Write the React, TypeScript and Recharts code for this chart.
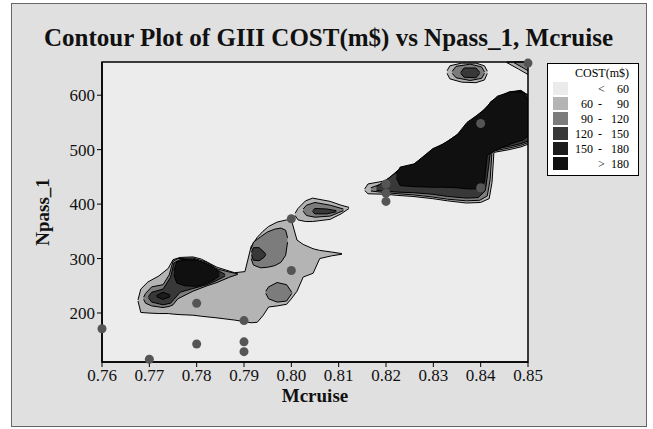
import React from "react";
import {
  ComposedChart,
  Area,
  Scatter,
  XAxis,
  YAxis,
  ReferenceArea,
} from "recharts";

// Contour bands, each as x with a [lo, hi] range of Npass_1
type Band = { x: number; lo: number; hi: number };

const xTicks = [0.76, 0.77, 0.78, 0.79, 0.8, 0.81, 0.82, 0.83, 0.84, 0.85];
const yTicks = [200, 300, 400, 500, 600];

const levelLabels = [
  ["", "<", "60"],
  ["60", "-", "90"],
  ["90", "-", "120"],
  ["120", "-", "150"],
  ["150", "-", "180"],
  ["", ">", "180"],
];
const levelColors = ["#ebebeb", "#b4b4b4", "#7c7c7c", "#383838", "#1c1c1c", "#101010"];

// observed design points
const designPoints = [
  { x: 0.76, y: 171 },
  { x: 0.77, y: 115 },
  { x: 0.78, y: 218 },
  { x: 0.78, y: 143 },
  { x: 0.79, y: 186 },
  { x: 0.79, y: 147 },
  { x: 0.79, y: 129 },
  { x: 0.8, y: 278 },
  { x: 0.8, y: 373 },
  { x: 0.82, y: 437 },
  { x: 0.82, y: 420 },
  { x: 0.82, y: 405 },
  { x: 0.84, y: 548 },
  { x: 0.84, y: 430 },
  { x: 0.85, y: 659 },
];

// lower-left blob
const lowLight: Band[] = [
  { x: 0.7676, lo: 222, hi: 224 },
  { x: 0.7682, lo: 201, hi: 244 },
  { x: 0.7697, lo: 200, hi: 257 },
  { x: 0.772, lo: 199, hi: 268 },
  { x: 0.774, lo: 199, hi: 282 },
  { x: 0.775, lo: 198, hi: 298 },
  { x: 0.7765, lo: 197, hi: 302 },
  { x: 0.7792, lo: 196, hi: 303 },
  { x: 0.781, lo: 194, hi: 299 },
  { x: 0.7843, lo: 191, hi: 284 },
  { x: 0.788, lo: 187, hi: 274 },
  { x: 0.7902, lo: 184, hi: 276 },
  { x: 0.7915, lo: 182, hi: 322 },
  { x: 0.7928, lo: 183, hi: 339 },
  { x: 0.794, lo: 195, hi: 350 },
  { x: 0.7952, lo: 211, hi: 359 },
  { x: 0.797, lo: 213, hi: 367 },
  { x: 0.799, lo: 216, hi: 371 },
  { x: 0.8, lo: 226, hi: 371 },
  { x: 0.8012, lo: 240, hi: 334 },
  { x: 0.8025, lo: 266, hi: 326 },
  { x: 0.8046, lo: 273, hi: 318 },
  { x: 0.806, lo: 300, hi: 315 },
  { x: 0.8085, lo: 305, hi: 312 },
  { x: 0.8107, lo: 308, hi: 309 },
];
const lowMid: Band[] = [
  { x: 0.7688, lo: 225, hi: 229 },
  { x: 0.7692, lo: 218, hi: 236 },
  { x: 0.7705, lo: 213, hi: 248 },
  { x: 0.7729, lo: 210, hi: 252 },
  { x: 0.7742, lo: 212, hi: 270 },
  { x: 0.775, lo: 215, hi: 295 },
  { x: 0.776, lo: 226, hi: 300 },
  { x: 0.7792, lo: 240, hi: 301 },
  { x: 0.7822, lo: 250, hi: 293 },
  { x: 0.7843, lo: 256, hi: 281 },
  { x: 0.787, lo: 266, hi: 275 },
  { x: 0.7887, lo: 271, hi: 272 },
];
const lowDark: Band[] = [
  { x: 0.7698, lo: 228, hi: 230 },
  { x: 0.7705, lo: 220, hi: 238 },
  { x: 0.7729, lo: 215, hi: 244 },
  { x: 0.7745, lo: 218, hi: 266 },
  { x: 0.7752, lo: 225, hi: 292 },
  { x: 0.7765, lo: 238, hi: 298 },
  { x: 0.7792, lo: 245, hi: 299 },
  { x: 0.7822, lo: 252, hi: 290 },
  { x: 0.7843, lo: 260, hi: 279 },
  { x: 0.786, lo: 268, hi: 271 },
];
const lowCore: Band[] = [
  { x: 0.7715, lo: 230, hi: 232 },
  { x: 0.7729, lo: 225, hi: 238 },
  { x: 0.7744, lo: 230, hi: 233 },
];
const lowBlack: Band[] = [
  { x: 0.7752, lo: 270, hi: 278 },
  { x: 0.7758, lo: 255, hi: 294 },
  { x: 0.7775, lo: 250, hi: 297 },
  { x: 0.78, lo: 249, hi: 297 },
  { x: 0.782, lo: 254, hi: 291 },
  { x: 0.7835, lo: 260, hi: 284 },
  { x: 0.7848, lo: 268, hi: 274 },
];

// pocket near 0.79 / 310
const midPocket: Band[] = [
  { x: 0.7915, lo: 300, hi: 318 },
  { x: 0.792, lo: 288, hi: 330 },
  { x: 0.7935, lo: 283, hi: 340 },
  { x: 0.795, lo: 284, hi: 349 },
  { x: 0.7965, lo: 287, hi: 354 },
  { x: 0.7978, lo: 293, hi: 356 },
  { x: 0.7988, lo: 306, hi: 352 },
  { x: 0.7992, lo: 330, hi: 338 },
];
const darkPocket: Band[] = [
  { x: 0.7916, lo: 306, hi: 312 },
  { x: 0.792, lo: 297, hi: 320 },
  { x: 0.7932, lo: 296, hi: 320 },
  { x: 0.7942, lo: 302, hi: 312 },
  { x: 0.7946, lo: 307, hi: 308 },
];
// pocket near 0.80 / 245
const midSpot: Band[] = [
  { x: 0.7946, lo: 236, hi: 240 },
  { x: 0.7952, lo: 226, hi: 248 },
  { x: 0.797, lo: 220, hi: 256 },
  { x: 0.799, lo: 222, hi: 252 },
  { x: 0.8001, lo: 236, hi: 238 },
];

// small blob near 0.805 / 390
const upLight: Band[] = [
  { x: 0.8008, lo: 379, hi: 383 },
  { x: 0.8014, lo: 371, hi: 392 },
  { x: 0.803, lo: 368, hi: 406 },
  { x: 0.8045, lo: 368, hi: 411 },
  { x: 0.8082, lo: 372, hi: 405 },
  { x: 0.8105, lo: 382, hi: 398 },
  { x: 0.8122, lo: 392, hi: 394 },
];
const upMid: Band[] = [
  { x: 0.8025, lo: 387, hi: 391 },
  { x: 0.8032, lo: 379, hi: 398 },
  { x: 0.805, lo: 376, hi: 403 },
  { x: 0.8082, lo: 378, hi: 398 },
  { x: 0.811, lo: 388, hi: 391 },
];
const upDark: Band[] = [
  { x: 0.8045, lo: 386, hi: 388 },
  { x: 0.805, lo: 382, hi: 392 },
  { x: 0.8075, lo: 382, hi: 391 },
  { x: 0.8095, lo: 386, hi: 388 },
];

// high cost ridge, upper right
const ridgeLight: Band[] = [
  { x: 0.8155, lo: 425, hi: 428 },
  { x: 0.8162, lo: 419, hi: 437 },
  { x: 0.82, lo: 418, hi: 443 },
  { x: 0.8225, lo: 416, hi: 462 },
  { x: 0.8257, lo: 414, hi: 472 },
  { x: 0.8299, lo: 410, hi: 500 },
  { x: 0.833, lo: 406, hi: 515 },
  { x: 0.837, lo: 402, hi: 540 },
  { x: 0.84, lo: 403, hi: 565 },
  { x: 0.8418, lo: 410, hi: 580 },
  { x: 0.8424, lo: 440, hi: 586 },
  { x: 0.8428, lo: 495, hi: 592 },
  { x: 0.846, lo: 500, hi: 606 },
  { x: 0.8485, lo: 505, hi: 609 },
  { x: 0.85, lo: 510, hi: 600 },
];
const ridgeMid: Band[] = [
  { x: 0.8168, lo: 424, hi: 430 },
  { x: 0.82, lo: 421, hi: 440 },
  { x: 0.8225, lo: 419, hi: 461 },
  { x: 0.8257, lo: 417, hi: 471 },
  { x: 0.8299, lo: 413, hi: 499 },
  { x: 0.833, lo: 409, hi: 514 },
  { x: 0.837, lo: 406, hi: 539 },
  { x: 0.8398, lo: 407, hi: 563 },
  { x: 0.8414, lo: 415, hi: 578 },
  { x: 0.842, lo: 445, hi: 584 },
  { x: 0.8424, lo: 497, hi: 590 },
  { x: 0.846, lo: 503, hi: 605 },
  { x: 0.8485, lo: 508, hi: 608 },
  { x: 0.85, lo: 513, hi: 600 },
];
const ridgeDark: Band[] = [
  { x: 0.818, lo: 425, hi: 432 },
  { x: 0.8225, lo: 422, hi: 460 },
  { x: 0.8257, lo: 421, hi: 470 },
  { x: 0.8299, lo: 418, hi: 498 },
  { x: 0.833, lo: 414, hi: 513 },
  { x: 0.837, lo: 411, hi: 538 },
  { x: 0.8395, lo: 412, hi: 562 },
  { x: 0.841, lo: 425, hi: 576 },
  { x: 0.8417, lo: 470, hi: 582 },
  { x: 0.8421, lo: 500, hi: 588 },
  { x: 0.846, lo: 506, hi: 604 },
  { x: 0.8485, lo: 511, hi: 607 },
  { x: 0.85, lo: 516, hi: 600 },
];
const ridgeBlack: Band[] = [
  { x: 0.8222, lo: 448, hi: 456 },
  { x: 0.823, lo: 434, hi: 468 },
  { x: 0.826, lo: 432, hi: 474 },
  { x: 0.8299, lo: 431, hi: 502 },
  { x: 0.832, lo: 431, hi: 510 },
  { x: 0.835, lo: 430, hi: 527 },
  { x: 0.8371, lo: 428, hi: 550 },
  { x: 0.8392, lo: 428, hi: 563 },
  { x: 0.8408, lo: 440, hi: 574 },
  { x: 0.8414, lo: 490, hi: 580 },
  { x: 0.8435, lo: 500, hi: 598 },
  { x: 0.8462, lo: 510, hi: 606 },
  { x: 0.849, lo: 518, hi: 605 },
  { x: 0.85, lo: 525, hi: 592 },
];

// island near 0.838 / 640
const topLight: Band[] = [
  { x: 0.8329, lo: 640, hi: 645 },
  { x: 0.8335, lo: 630, hi: 654 },
  { x: 0.836, lo: 624, hi: 659 },
  { x: 0.839, lo: 623, hi: 659 },
  { x: 0.8408, lo: 628, hi: 654 },
  { x: 0.8414, lo: 640, hi: 644 },
];
const topMid: Band[] = [
  { x: 0.834, lo: 640, hi: 644 },
  { x: 0.8348, lo: 632, hi: 653 },
  { x: 0.8378, lo: 627, hi: 657 },
  { x: 0.8402, lo: 631, hi: 652 },
  { x: 0.8408, lo: 640, hi: 643 },
];
const topDark: Band[] = [
  { x: 0.8358, lo: 640, hi: 642 },
  { x: 0.8365, lo: 633, hi: 650 },
  { x: 0.839, lo: 632, hi: 650 },
  { x: 0.8398, lo: 640, hi: 642 },
];
// corner wedge
const cornerLight: Band[] = [
  { x: 0.8455, lo: 660, hi: 661 },
  { x: 0.848, lo: 648, hi: 661 },
  { x: 0.85, lo: 638, hi: 661 },
];
const cornerMid: Band[] = [
  { x: 0.847, lo: 660, hi: 661 },
  { x: 0.849, lo: 650, hi: 661 },
  { x: 0.85, lo: 645, hi: 661 },
];

const layers: { key: string; band: Band[]; level: number }[] = [
  { key: "lowLight", band: lowLight, level: 1 },
  { key: "upLight", band: upLight, level: 1 },
  { key: "ridgeLight", band: ridgeLight, level: 1 },
  { key: "topLight", band: topLight, level: 1 },
  { key: "cornerLight", band: cornerLight, level: 1 },
  { key: "lowMid", band: lowMid, level: 2 },
  { key: "midPocket", band: midPocket, level: 2 },
  { key: "midSpot", band: midSpot, level: 2 },
  { key: "upMid", band: upMid, level: 2 },
  { key: "ridgeMid", band: ridgeMid, level: 2 },
  { key: "topMid", band: topMid, level: 2 },
  { key: "cornerMid", band: cornerMid, level: 2 },
  { key: "lowDark", band: lowDark, level: 3 },
  { key: "darkPocket", band: darkPocket, level: 3 },
  { key: "upDark", band: upDark, level: 3 },
  { key: "ridgeDark", band: ridgeDark, level: 3 },
  { key: "topDark", band: topDark, level: 3 },
  { key: "lowCore", band: lowCore, level: 4 },
  { key: "lowBlack", band: lowBlack, level: 5 },
  { key: "ridgeBlack", band: ridgeBlack, level: 5 },
];

// merge into one table keyed by x
const rows: Record<number, any> = {};
layers.forEach(({ key, band }) => {
  band.forEach((b) => {
    if (!rows[b.x]) rows[b.x] = { x: b.x };
    rows[b.x][key] = [b.lo, b.hi];
  });
});
const tableData = Object.values(rows).sort((a: any, b: any) => a.x - b.x);

const serif = "'Liberation Serif', 'Times New Roman', serif";

const CostLegend = () => (
  <div
    style={{
      position: "absolute",
      left: 547,
      top: 63,
      width: 90,
      height: 111,
      border: "1px solid #000",
      background: "#fff",
      fontFamily: serif,
      fontSize: 12,
      color: "#000",
    }}
  >
    <div style={{ position: "absolute", right: 9, top: 2 }}>COST(m$)</div>
    {levelLabels.map((l, i) => (
      <div key={i} style={{ position: "absolute", left: 0, top: 18 + i * 15, width: 90, height: 14 }}>
        <div
          style={{
            position: "absolute",
            left: 5,
            top: 0,
            width: 15,
            height: 13,
            background: levelColors[i],
          }}
        />
        <span style={{ position: "absolute", right: 45, top: 0 }}>{l[0]}</span>
        <span style={{ position: "absolute", left: 50, top: 0 }}>{l[1]}</span>
        <span style={{ position: "absolute", right: 9, top: 0 }}>{l[2]}</span>
      </div>
    ))}
  </div>
);

const Dot = (props: any) => <circle cx={props.cx} cy={props.cy} r={4.5} fill="#555" />;

export default function App() {
  return (
    <div style={{ position: "absolute", left: 0, top: 0, width: 653, height: 429, background: "#fff" }}>
      <div
        style={{
          position: "absolute",
          left: 11,
          top: 3,
          width: 634,
          height: 422,
          background: "#e0e0e0",
          border: "1px solid #666",
        }}
      />
      <div
        style={{
          position: "absolute",
          left: 0,
          top: 24,
          width: 657,
          textAlign: "center",
          fontFamily: serif,
          fontWeight: "bold",
          fontSize: 25,
          color: "#111",
        }}
      >
        Contour Plot of GIII COST(m$) vs Npass_1, Mcruise
      </div>
      <div style={{ position: "absolute", left: 0, top: 0 }}>
        <ComposedChart
          width={653}
          height={429}
          data={tableData}
          margin={{ top: 62, right: 125, bottom: 27, left: 42 }}
        >
          <XAxis
            dataKey="x"
            type="number"
            domain={[0.76, 0.85]}
            ticks={xTicks}
            tickFormatter={(v: number) => v.toFixed(2)}
            tick={{ fontFamily: serif, fontSize: 17, fill: "#111" }}
            tickSize={5}
            axisLine={{ stroke: "#000", strokeWidth: 1.5 }}
            tickLine={{ stroke: "#000" }}
            height={40}
            label={{
              value: "Mcruise",
              position: "insideBottom",
              offset: 0,
              style: { fontFamily: serif, fontSize: 19, fontWeight: "bold", fill: "#111" },
            }}
          />
          <YAxis
            type="number"
            domain={[110, 661]}
            ticks={yTicks}
            tick={{ fontFamily: serif, fontSize: 17, fill: "#111" }}
            tickSize={5}
            axisLine={{ stroke: "#000", strokeWidth: 1.5 }}
            tickLine={{ stroke: "#000" }}
            width={60}
            label={{
              value: "Npass_1",
              angle: -90,
              position: "insideLeft",
              offset: 0,
              style: { textAnchor: "middle", fontFamily: serif, fontSize: 19, fontWeight: "bold", fill: "#111" },
            }}
          />
          <ReferenceArea x1={0.76} x2={0.85} y1={110} y2={661} fill="#ececec" fillOpacity={1} stroke="none" />
          {layers.map(({ key, level }) => (
            <Area
              key={key}
              dataKey={key}
              type="linear"
              connectNulls
              fill={levelColors[level]}
              fillOpacity={1}
              stroke="#000"
              strokeWidth={1}
              dot={false}
              activeDot={false}
              isAnimationActive={false}
            />
          ))}
          <Scatter data={designPoints} dataKey="y" shape={<Dot />} isAnimationActive={false} />
          <ReferenceArea x1={0.76} x2={0.85} y1={110} y2={661} fill="none" stroke="#000" strokeWidth={1.5} />
        </ComposedChart>
      </div>
      <CostLegend />
    </div>
  );
}
